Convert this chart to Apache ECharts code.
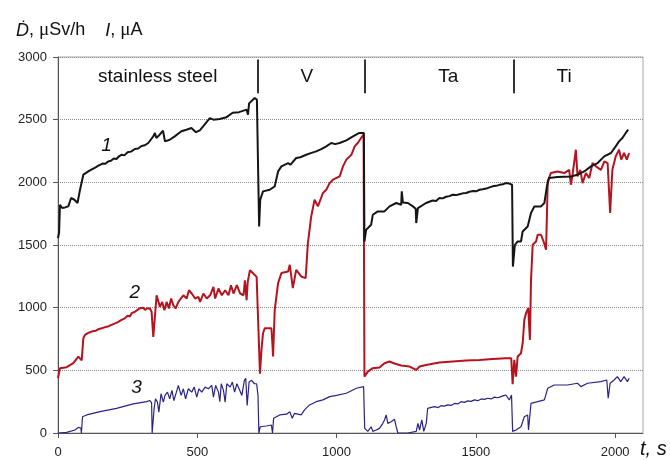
<!DOCTYPE html>
<html><head><meta charset="utf-8">
<script src="https://cdn.jsdelivr.net/npm/echarts@6/dist/echarts.min.js"></script>
<style>html,body{margin:0;padding:0;background:#fff}#c{width:670px;height:460px}</style>
</head><body><div id="c"></div>
<script>
// Curve 1 — dose rate (black)
const t1 = [0,4,7,15,25,37,47,59,70,79,85,91,109,118,125,135,145,152,160,170,180,190,200,210,220,228,238,250,262,276,288,300,312,324,342,348,353,365,377,384,401,419,443,461,479,495,509,521,545,558,580,605,627,650,677,682,686,706,714,718,722,726,736,760,778,790,802,826,834,855,870,891,910,927,945,963,981,995,1011,1035,1059,1082,1098,1100,1106,1124,1130,1148,1172,1190,1214,1232,1234,1238,1256,1274,1284,1286,1292,1321,1333,1345,1357,1369,1381,1393,1405,1417,1429,1441,1453,1465,1477,1490,1501,1513,1525,1537,1549,1560,1572,1585,1597,1608,1620,1630,1633,1640,1650,1662,1668,1686,1698,1710,1734,1746,1755,1763,1793,1841,1865,1889,1913,1937,1961,1985,2002,2014,2026,2038,2047];
const d1 = [1555,1600,1821,1795,1800,1808,1875,1861,1835,1941,1950,2061,2087,2100,2095,2120,2133,2128,2150,2148,2167,2172,2190,2186,2210,2220,2215,2240,2245,2266,2270,2290,2296,2314,2367,2394,2354,2380,2412,2327,2340,2367,2407,2420,2434,2400,2415,2447,2513,2500,2505,2520,2555,2560,2580,2540,2630,2673,2660,2645,1648,1861,1928,1941,1968,2087,2127,2154,2140,2194,2200,2220,2235,2247,2265,2287,2314,2305,2314,2335,2367,2394,2394,1528,1621,1661,1741,1768,1768,1808,1835,1821,1928,1840,1835,1808,1790,1675,1795,1835,1845,1855,1852,1875,1872,1885,1890,1901,1898,1905,1912,1915,1925,1930,1928,1941,1945,1950,1960,1968,1972,1980,1985,1994,1990,1981,1328,1500,1528,1528,1608,1648,1755,1808,1808,1835,1968,2034,2042,2047,2061,2087,2127,2154,2207,2234,2287,2327,2354,2394,2420];
// Curve 2 — current (red)
const t2 = [0,7,31,55,73,85,91,97,110,121,135,145,157,170,180,192,205,215,228,240,250,258,264,275,282,294,300,306,312,320,330,336,342,347,354,359,366,374,382,390,398,406,414,422,432,450,462,470,480,492,504,510,522,534,546,558,564,576,588,600,612,621,630,642,654,666,671,677,681,689,701,713,719,725,731,736,742,766,770,772,778,790,802,826,832,843,855,873,889,897,909,921,933,951,963,975,987,1011,1023,1035,1053,1065,1076,1088,1097,1100,1112,1130,1154,1172,1190,1208,1232,1262,1286,1298,1321,1369,1417,1465,1513,1560,1608,1627,1632,1638,1644,1650,1662,1668,1674,1680,1688,1694,1698,1704,1716,1722,1734,1743,1752,1758,1769,1793,1817,1835,1841,1847,1859,1865,1875,1883,1895,1907,1919,1931,1949,1961,1973,1982,1990,2002,2014,2022,2032,2042,2050];
const d2 = [437,517,525,557,610,580,756,783,800,809,815,828,836,845,850,863,875,885,903,915,935,930,956,965,955,996,985,1000,983,995,993,966,766,760,1099,1113,1006,1046,979,1046,993,1073,1019,993,1046,1099,1073,1139,1113,1073,1086,1046,1113,1073,1099,1166,1073,1153,1099,1139,1099,1179,1113,1179,1113,1099,1219,1060,1206,1299,1273,1246,1246,473,680,796,836,836,700,610,983,1196,1276,1289,1342,1156,1302,1249,1236,1515,1728,1861,1808,1915,1941,1994,2021,2047,2127,2181,2220,2287,2314,2354,2380,450,490,517,523,557,570,555,538,530,503,530,543,562,570,578,583,591,597,597,390,583,450,610,636,716,903,956,996,743,1222,1502,1528,1582,1582,1528,1462,2008,2074,2087,2074,2100,1981,2061,2260,2047,2100,1994,2074,2034,2154,2127,2100,2167,2154,1755,2100,2207,2260,2181,2234,2181,2234];
// Curve 3 (blue)
const t3 = [0,31,61,73,82,84,88,103,151,210,270,318,330,336,338,342,345,350,357,362,370,378,384,393,401,409,416,425,432,442,450,458,468,480,489,498,506,516,528,540,552,558,566,576,581,586,594,600,606,618,626,634,642,650,660,669,674,679,686,695,705,713,718,721,726,748,766,770,774,796,820,832,841,849,873,885,903,927,951,975,1000,1035,1071,1097,1101,1103,1112,1124,1130,1142,1154,1166,1172,1178,1184,1196,1208,1214,1220,1256,1286,1292,1298,1306,1313,1322,1327,1340,1351,1365,1375,1387,1399,1411,1423,1435,1447,1459,1471,1483,1495,1507,1519,1531,1543,1555,1567,1579,1590,1600,1608,1620,1628,1632,1644,1662,1674,1686,1689,1698,1722,1746,1758,1781,1829,1865,1877,1901,1949,1970,1975,1982,1996,2008,2020,2032,2044,2050];
const d3 = [0,5,24,45,40,0,130,144,170,197,232,250,259,240,0,0,193,273,246,166,313,246,300,326,273,340,259,326,380,300,353,273,353,326,366,286,353,326,366,353,380,286,380,326,250,393,340,246,393,366,406,326,393,353,300,420,437,220,406,420,393,393,300,0,50,56,64,0,117,144,150,170,117,157,144,184,224,250,264,290,300,317,357,370,37,24,13,50,13,24,37,77,104,144,77,90,109,50,0,0,13,77,24,104,13,77,197,205,210,203,218,214,224,220,236,232,250,244,256,252,264,258,272,268,277,272,286,281,290,298,303,264,303,13,24,50,130,144,24,237,250,264,357,383,383,397,370,397,410,423,277,397,423,450,410,450,410,437];

const yTickValues = [0,500,1000,1500,2000,2500,3000];
const xTickValues = [0,500,1000,1500,2000];
const segmentNames = ['stainless steel','V','Ta','Ti'];
const segmentLabelT = [358,893,1401,1817];
const segmentLabelV = [2840,2840,2840,2840];
const segmentBounds = [717,1102,1637];
const curveNames = ['1','2','3'];
const curveLabelT = [174,276,282];
const curveLabelV = [2292,1121,365];

const zip = (ts, vs) => ts.map((t, i) => [t, vs[i]]);
const FONT = 'Liberation Sans, Arial, sans-serif';
const INK = '#111';

const chart = echarts.init(document.getElementById('c'), null, {renderer:'canvas'});
chart.setOption({
  animation:false,
  backgroundColor:'#fff',
  title:{
    text:'{i|Ḋ}{n|, }{m|μ}{n|Sv/h    }{i|I}{n|, }{m|μ}{n|A}',
    left:11, top:16,
    textStyle:{
      fontWeight:'normal',
      rich:{
        i:{fontStyle:'italic', fontWeight:'normal', fontSize:18, fontFamily:FONT, color:INK},
        n:{fontWeight:'normal', fontSize:18, fontFamily:FONT, color:INK},
        m:{fontWeight:'normal', fontSize:19, fontFamily:'Liberation Serif, serif', color:INK}
      }
    }
  },
  grid:{left:58, right:27, top:57, bottom:27, show:true, borderColor:'#a8a8a8', borderWidth:1},
  xAxis:{
    type:'value', min:0, max:2100, interval:500,
    axisLine:{lineStyle:{color:'#555', width:1}},
    axisTick:{show:true, length:5, lineStyle:{color:'#555'}},
    axisLabel:{showMaxLabel:false, color:'#222', fontSize:13, fontFamily:FONT, margin:13,
      formatter:v => xTickValues.includes(v) ? String(v) : ''},
    splitLine:{show:false}
  },
  yAxis:{
    type:'value', min:0, max:3000, interval:500,
    axisLine:{show:true, lineStyle:{color:'#555', width:1}},
    axisTick:{show:true, length:5, lineStyle:{color:'#555'}},
    axisLabel:{color:'#222', fontSize:13, fontFamily:FONT, margin:11,
      formatter:v => yTickValues.includes(v) ? String(v) : ''},
    splitLine:{show:true, lineStyle:{color:'#8c8c8c', type:[1,1], width:1}}
  },
  graphic:[
    {type:'text', left:640, top:439, style:{text:'t, s', font:'italic 20px ' + FONT, fill:INK}}
  ],
  series:[
    {type:'line', name:'3', data:zip(t3,d3), showSymbol:false, symbol:'none',
      lineStyle:{color:'#2b2386', width:1.2}, z:2},
    {type:'line', name:'2', data:zip(t2,d2), showSymbol:false, symbol:'none',
      lineStyle:{color:'#b5141f', width:2}, z:3},
    {type:'line', name:'1', data:zip(t1,d1), showSymbol:false, symbol:'none',
      lineStyle:{color:'#151515', width:2}, z:4,
      markLine:{
        silent:true, symbol:'none', label:{show:false},
        lineStyle:{color:'#333', width:2, type:'solid'},
        data: segmentBounds.map(b => [{coord:[b,2710]},{coord:[b,2980]}])
      }
    },
    {type:'scatter', name:'segments', symbolSize:0, z:5, itemStyle:{opacity:1},
      data: segmentNames.map((n,i) => ({name:n, value:[segmentLabelT[i], segmentLabelV[i]]})),
      label:{show:true, position:'inside', formatter:p => p.name, fontSize:19, fontFamily:FONT, color:INK, opacity:1}
    },
    {type:'scatter', name:'curves', symbolSize:0, z:5, itemStyle:{opacity:1},
      data: curveNames.map((n,i) => ({name:n, value:[curveLabelT[i], curveLabelV[i]]})),
      label:{show:true, position:'inside', formatter:p => p.name, fontSize:19, fontStyle:'italic', fontFamily:FONT, color:INK, opacity:1}
    }
  ]
});
</script></body></html>
